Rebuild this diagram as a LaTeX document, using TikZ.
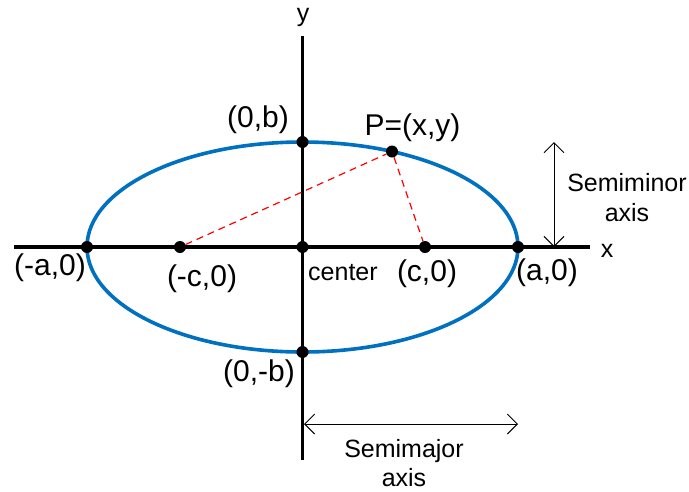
\documentclass[tikz,border=0pt]{standalone}
\usepackage{fontspec}
\setmainfont{Liberation Sans}
\usetikzlibrary{arrows.meta}
\definecolor{ellblue}{RGB}{0,112,192}
\begin{document}
\begin{tikzpicture}[x=1pt,y=-1pt,
  axisline/.style={line width=3.6pt},
  ell/.style={line width=3.6pt, draw=ellblue},
  focal/.style={red, line width=1.2pt, dash pattern=on 7pt off 5pt},
  dimarrow/.style={line width=0.9pt, {Straight Barb[length=10pt,width=20pt]}-{Straight Barb[length=10pt,width=20pt]}},
  dot/.style={circle, fill=black, inner sep=0pt, minimum size=12pt},
  lbl/.style={font=\fontsize{30}{34}\selectfont, inner sep=0pt},
  sm/.style={font=\fontsize{25}{29.5}\selectfont, inner sep=0pt, align=center}]
\fill[white] (0,0) rectangle (689,491);
\useasboundingbox (0,0) rectangle (689,491);
% axes
\coordinate (O) at (302.5,247);
\coordinate (xl) at (14,247);
\coordinate (xr) at (590,247);
\coordinate (yt) at (302.5,36);
\coordinate (yb) at (302.5,460);
\draw[axisline] (xl) -- (xr);
\draw[axisline] (yt) -- (yb);
% ellipse
\draw[ell] (O) ellipse [x radius=215.5, y radius=105];
% points
\node[dot] (C) at (O) {};
\node[dot] (A1) at (87,247) {};
\node[dot] (A2) at (518,247) {};
\node[dot] (F1) at (180,247) {};
\node[dot] (F2) at (425,247) {};
\node[dot] (B1) at (302.5,142) {};
\node[dot] (B2) at (302.5,352) {};
\node[dot] (P) at (392,151.5) {};
% focal lines
\draw[focal] (F1) -- (P);
\draw[focal] (P) -- (F2);
% dimension arrows
\coordinate (sa1) at (554,142);
\coordinate (sa2) at (554,247);
\coordinate (ma1) at (304,424);
\coordinate (ma2) at (518,424);
\draw[dimarrow] (sa1) -- (sa2);
\draw[dimarrow] (ma1) -- (ma2);
% labels
\node[sm, anchor=base] (ly) at (303,21) {y};
\node[sm, anchor=base] (lx) at (607,257) {x};
\node[lbl] (lb1) at (258,120) {(0,b)};
\node[lbl] (lP) at (412.5,127.5) {P=(x,y)};
\node[lbl] (la1) at (50,268) {(-a,0)};
\node[lbl] (lf1) at (202,279) {(-c,0)};
\node[sm, anchor=base west] (lc) at (308,280) {center};
\node[lbl] (lf2) at (427,274) {(c,0)};
\node[lbl] (la2) at (547,272.5) {(a,0)};
\node[lbl] (lb2) at (259,374) {(0,-b)};
\node[sm] (lmin) at (627,197.5) {Semiminor\\axis};
\node[sm] (lmaj) at (404,463) {Semimajor\\axis};
\end{tikzpicture}
\end{document}
